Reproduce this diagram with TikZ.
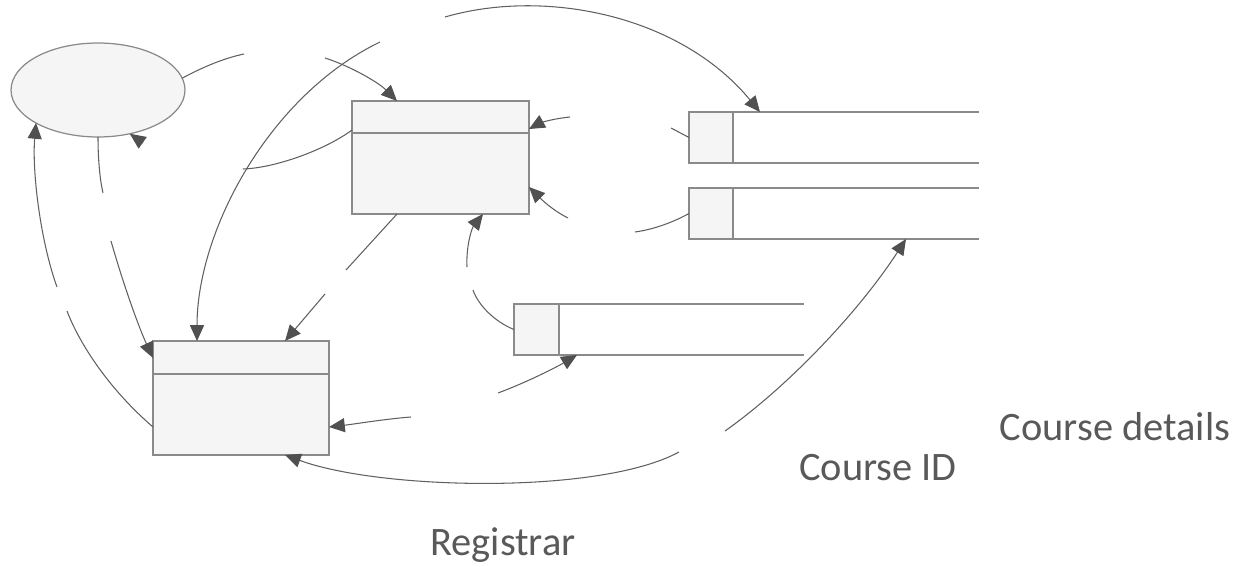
\documentclass[tikz,border=0pt]{standalone}
\usepackage{fontspec}
\setmainfont{Carlito}
\usetikzlibrary{positioning}
\usetikzlibrary{shapes}
\usetikzlibrary{arrows.meta,calc}

\definecolor{flowgray}{HTML}{606060}
\definecolor{boxgray}{HTML}{8A8A8A}
\definecolor{fillgray}{HTML}{F5F5F5}
\definecolor{textgray}{HTML}{595959}
\definecolor{tipgray}{HTML}{505050}

\tikzset{
  flow/.style={flowgray, line width=0.6pt},
  flowarrow/.style={flow, -{Triangle[length=9pt,width=8pt,color=tipgray]}},
  procbox/.style={draw=boxgray, fill=fillgray, line width=0.7pt, rectangle, inner sep=0pt, outer sep=0pt},
  idbox/.style={draw=boxgray, fill=fillgray, line width=0.7pt, rectangle, inner sep=0pt, outer sep=0pt, minimum width=0.88cm, minimum height=1.02cm},
  storeline/.style={boxgray, line width=0.7pt},
  label/.style={textgray, font=\fontsize{23}{27}\selectfont, anchor=base, inner sep=0pt}
}

\begin{document}
\begin{tikzpicture}[x=0.02cm, y=-0.02cm]
\useasboundingbox (0,0) rectangle (1250,567);

%entity
\node[ellipse, draw=boxgray, fill=fillgray, line width=0.7pt, inner sep=0pt, outer sep=0pt, minimum width=3.48cm, minimum height=1.88cm] (student) at (98,90) {};

%processes
\node[procbox, minimum width=3.54cm, minimum height=2.26cm] (reg) at (440.5,157.5) {};
\draw[storeline] ($(reg.north west)+(0,32)$) -- ($(reg.north east)+(0,32)$);
\node[procbox, minimum width=3.52cm, minimum height=2.28cm] (sched) at (241,398) {};
\draw[storeline] ($(sched.north west)+(0,33)$) -- ($(sched.north east)+(0,33)$);

%data stores
\node[idbox] (ds1) at (711,137.5) {};
\draw[storeline] (ds1.north east) -- ++(246,0);
\draw[storeline] (ds1.south east) -- ++(246,0);
\node[idbox] (ds2) at (711,213.5) {};
\draw[storeline] (ds2.north east) -- ++(246,0);
\draw[storeline] (ds2.south east) -- ++(246,0);
\node[idbox, minimum width=0.9cm] (ds3) at (536.5,329.5) {};
\draw[storeline] (ds3.north east) -- ++(245,0);
\draw[storeline] (ds3.south east) -- ++(245,0);

%free ends
\coordinate (a1) at (244,54);
\coordinate (a2) at (325,58);
\coordinate (b1) at (380,42);
\coordinate (b2) at (243,169);
\coordinate (c1) at (445,17);
\coordinate (d1) at (570,117);
\coordinate (d2) at (568,218);
\coordinate (d3) at (635,232);
\coordinate (d4) at (671,128);
\coordinate (e1) at (473,290);
\coordinate (e2) at (467,267);
\coordinate (f1) at (346,270);
\coordinate (f2) at (325,294);
\coordinate (g1) at (498,393);
\coordinate (g2) at (411,417);
\coordinate (h1) at (725,431);
\coordinate (h2) at (679,452);
\coordinate (k1) at (67,311);
\coordinate (k2) at (57,287);
\coordinate (m1) at (103,193);
\coordinate (m2) at (111,241);
\coordinate (n1) at (143,143);

%flows
\draw[flow] (student.8) .. controls (205,66) and (225,58) .. (a1);
\draw[flowarrow] (a2) .. controls (350,66) and (378,82) .. ($(reg.north west)+(45,0)$);
\draw[flowarrow] (b1) .. controls (270,95) and (197,230) .. ($(sched.north west)+(44,0)$);
\draw[flow] ($(reg.north west)+(0,29)$) .. controls (325,150) and (275,168) .. (b2);
\draw[flowarrow] (c1) .. controls (545,-12) and (680,15) .. ($(ds1.north east)+(27,0)$);
\draw[flowarrow] (d1) .. controls (550,119) and (538,124) .. ($(reg.north east)+(0,28)$);
\draw[flowarrow] (d2) .. controls (552,210) and (540,198) .. ($(reg.north east)+(0,86)$);
\draw[flow] (ds2.west) .. controls (670,224) and (650,230) .. (d3);
\draw[flow] (ds1.west) -- (d4);
\draw[flow] (ds3.west) .. controls (495,322) and (478,305) .. (e1);
\draw[flowarrow] (e2) .. controls (466,245) and (472,228) .. ($(reg.south west)+(131,0)$);
\draw[flow] ($(reg.south west)+(45,0)$) -- (f1);
\draw[flowarrow] (f2) -- ($(sched.north west)+(132,0)$);
\draw[flowarrow] (g1) .. controls (525,383) and (555,368) .. ($(ds3.south east)+(18,0)$);
\draw[flowarrow] (g2) .. controls (385,419) and (355,424) .. ($(sched.north east)+(0,86)$);
\draw[flowarrow] (h1) .. controls (790,385) and (860,310) .. ($(ds2.south east)+(173,0)$);
\draw[flowarrow] (h2) .. controls (600,495) and (380,490) .. ($(sched.south west)+(132,0)$);
\draw[flow] ($(sched.north west)+(0,86)$) .. controls (110,390) and (80,345) .. (k1);
\draw[flowarrow] (k2) .. controls (40,240) and (32,170) .. (student.208);
\draw[flow] (student.south) .. controls (98,160) and (100,180) .. (m1);
\draw[flowarrow] (m2) .. controls (125,290) and (140,330) .. ($(sched.north west)+(0,17)$);
\draw[flowarrow] (n1) -- (student.-54);

%labels
\node[label] (details) at (1115,440) {Course details};
\node[label] (courseid) at (878,480) {Course ID};
\node[label] (registrar) at (503,555) {Registrar};

\end{tikzpicture}
\end{document}
